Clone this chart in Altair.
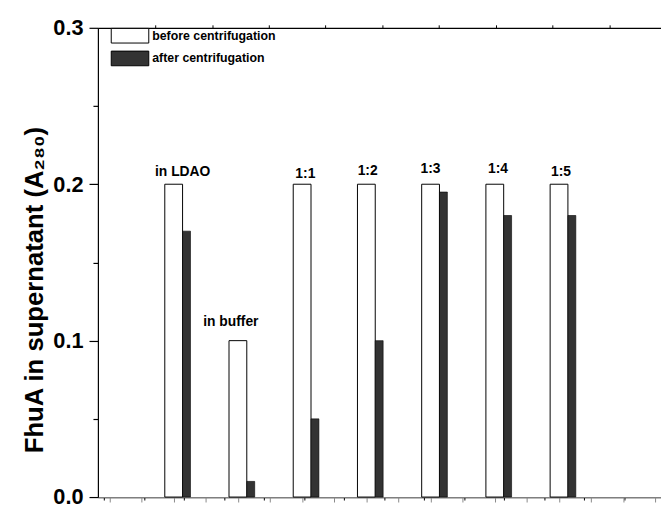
import altair as alt
import pandas as pd
import numpy as np

groups = ["in LDAO", "in buffer", "1:1", "1:2", "1:3", "1:4", "1:5"]
before = [0.2, 0.1, 0.2, 0.2, 0.2, 0.2, 0.2]
after = [0.17, 0.01, 0.05, 0.1, 0.195, 0.18, 0.18]
label_y = [0.2051, 0.1095, 0.2038, 0.2057, 0.207, 0.207, 0.2051]
label_shift = [0.14, -0.11, 0.05, 0.02, 0.0, 0.05, 0.03]
series_names = ["before centrifugation", "after centrifugation"]

idx = list(range(1, len(groups) + 1))
df_before = pd.DataFrame({"pos": idx, "value": before, "series": series_names[0]})
df_after = pd.DataFrame({"pos": idx, "value": after, "series": series_names[1]})
df_lab = pd.DataFrame({"pos": [i + s for i, s in zip(idx, label_shift)],
                       "value": label_y, "label": groups})

FONT = "Liberation Sans"
X0, X1 = -0.103, 8.511
xscale = alt.Scale(domain=[X0, X1], nice=False, zero=False)
yscale = alt.Scale(domain=[0, 0.3], nice=False)

color = alt.Color(
    "series:N",
    scale=alt.Scale(domain=series_names, range=["white", "#333333"]),
    legend=alt.Legend(
        title=None, orient="none", legendX=22.5, legendY=-2,
        symbolType="M-2,-0.78H2V0.78H-2Z", symbolSize=361,
        symbolStrokeColor="black", symbolStrokeWidth=1,
        labelFont=FONT, labelFontWeight="bold", labelFontSize=12.5,
        labelColor="black", labelOffset=12.5, rowPadding=3, padding=0,
    ),
)

bottom_ticks = list(X0 + 0.015 + np.arange(0, 14) * 0.6234)
top_ticks = list(X0 + 0.816 + np.arange(0, 9) * 0.884)

yaxis = alt.Axis(
    values=[round(v, 2) for v in np.arange(0, 0.301, 0.05)],
    labelExpr="abs(datum.value*10 - round(datum.value*10)) < 0.01 ? format(datum.value, '.1f') : ''",
    tickSize={"expr": "abs(datum.value*10 - round(datum.value*10)) < 0.01 ? 9 : 5"},
    labelFont=FONT, labelFontWeight="bold", labelFontSize=22, labelColor="black",
    labelPadding=6, tickColor="black", domainColor="black", tickWidth=1.2, domainWidth=1.2,
    grid=False,
    title="FhuA in supernatant (A₂₈₀)", titleFont=FONT, titleFontWeight="bold",
    titleFontSize=26, titleColor="black", titleAngle=270, titleX=-56, titleY=265,
    titleAlign="center", titleBaseline="alphabetic",
)

white = alt.Chart(df_before).mark_bar(size=18, stroke="black", strokeWidth=1).encode(
    x=alt.X("pos:Q", scale=xscale,
            axis=alt.Axis(values=bottom_ticks, labels=False, title=None, tickSize=3,
                          tickColor="black", domainColor="black", domainWidth=1.2, grid=False)),
    y=alt.Y("value:Q", scale=yscale, axis=yaxis),
    color=color,
)

hatched = alt.Chart(df_after).mark_bar(size=8, xOffset=13, stroke="black", strokeWidth=0.6).encode(
    x=alt.X("pos:Q", scale=xscale,
            axis=alt.Axis(orient="top", values=top_ticks, labels=False, title=None, tickSize=3,
                          tickColor="black", domainColor="black", domainWidth=1.2, grid=False)),
    y=alt.Y("value:Q", scale=yscale),
    color=color,
)

labels = alt.Chart(df_lab).mark_text(
    font=FONT, fontWeight="bold", fontSize=14, color="black", baseline="alphabetic", align="center"
).encode(
    x=alt.X("pos:Q", scale=xscale),
    y=alt.Y("value:Q", scale=yscale),
    text="label:N",
)

chart = alt.layer(white, hatched, labels).resolve_axis(x="independent").properties(
    width=570, height=475,
    autosize=alt.AutoSizeParams(type="none"),
    padding={"left": 91, "top": 17, "right": 0, "bottom": 6},
).configure_view(stroke=None)

chart.save("out.html", embed_options={"renderer": "svg", "actions": False})
